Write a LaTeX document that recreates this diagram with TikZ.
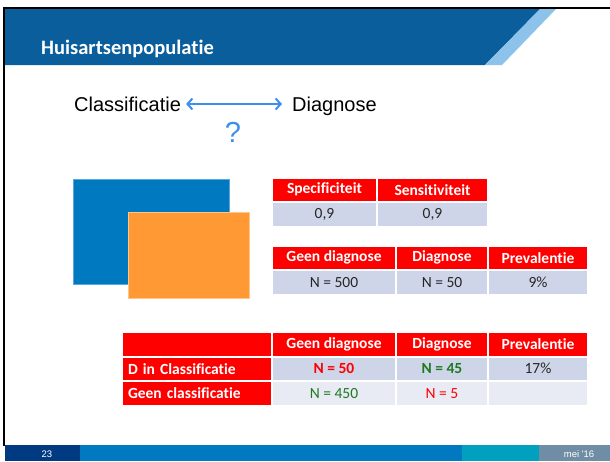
\documentclass[tikz,border=0pt]{standalone}
\usepackage{fontspec}
\setmainfont[Ligatures={NoCommon}]{Carlito}
\newfontfamily\arialf{Liberation Sans}
\usetikzlibrary{arrows.meta}
\definecolor{hdrblue}{HTML}{0A5E9C}
\definecolor{bandblue}{HTML}{8DC2EA}
\definecolor{bxblue}{HTML}{0079C1}
\definecolor{bxblueedge}{HTML}{5BA6DC}
\definecolor{bxorange}{HTML}{FF9933}
\definecolor{bxorangeedge}{HTML}{FFC58A}
\definecolor{tred}{HTML}{FF0000}
\definecolor{tcellA}{HTML}{CFD5E8}
\definecolor{tcellB}{HTML}{E8EBF4}
\definecolor{txtdark}{HTML}{262626}
\definecolor{tgreen}{HTML}{1E7A1E}
\definecolor{fnavy}{HTML}{003A80}
\definecolor{fblue}{HTML}{0079C1}
\definecolor{fteal}{HTML}{00A0BE}
\definecolor{fgray}{HTML}{6F8DA5}
\definecolor{arrowblue}{HTML}{3D8FEF}
\tikzset{
  cellbase/.style={draw=white, line width=2pt, inner sep=0pt, anchor=north west,
    font=\fontsize{15.5}{18}\selectfont},
  hcell/.style={cellbase, fill=tred, text=white, font=\bfseries\fontsize{15.5}{18}\selectfont},
  vcell/.style={cellbase, fill=tcellA, text=txtdark},
  wcell/.style={cellbase, fill=tcellB, text=txtdark},
  bigtext/.style={font=\arialf\fontsize{20}{24}\selectfont, inner sep=0pt,
    text height=15pt, text depth=1pt, anchor=base west},
  foottext/.style={font=\arialf\fontsize{9.5}{11}\selectfont, text=white, inner sep=0pt},
  arr/.style={{Straight Barb[length=5pt,width=11pt]}-{Straight Barb[length=5pt,width=11pt]},
    line width=2pt, arrowblue},
}
\newcommand\mkcell[7]{\node[#1, minimum width={#5-#3}, minimum height={#6-#4}] (#2) at (#3,#4) {#7};}
\begin{document}
\begin{tikzpicture}[x=1pt,y=-1pt]
\useasboundingbox (0,0) rectangle (610,461);
\fill[white] (0,0) rectangle (610,461);
% header
\fill[hdrblue] (4,9) -- (540,9) -- (485,65) -- (4,65) -- cycle;
\fill[bandblue] (540,9) -- (556,9) -- (502,65) -- (485,65) -- cycle;
\draw[line width=2pt] (3,8) -- (610,8);
\draw[line width=2pt] (4,8) -- (4,446);
\node[font=\bfseries\fontsize{20.5}{24}\selectfont, text=white, anchor=west, inner sep=0pt] (title) at (41,48.5) {Huisartsenpopulatie};
% classificatie row
\node[bigtext] (cl) at (74,111) {Classificatie};
\node[bigtext] (dg) at (292,111) {Diagnose};
\draw[arr, shorten <=5pt, shorten >=10pt] (cl.east) -- (dg.west);
\node[font=\arialf\fontsize{29}{32}\selectfont, text=arrowblue, inner sep=0pt] (q) at (233,132) {?};
% rectangles
\filldraw[fill=bxblue, draw=bxblueedge, line width=0.8pt] (73,179) rectangle (229,284);
\filldraw[fill=bxorange, draw=bxorangeedge, line width=0.8pt] (128,212) rectangle (249,298);
% table 1
\mkcell{hcell}{a1}{271}{177}{376}{200.5}{Specificiteit}
\mkcell{hcell}{a2}{376}{177}{487}{200.5}{Sensitiviteit}
\mkcell{vcell}{b1}{271}{200.5}{376}{226}{0,9}
\mkcell{vcell}{b2}{376}{200.5}{487}{226}{0,9}
% table 2
\mkcell{hcell}{c1}{271}{245}{395}{268.5}{Geen diagnose}
\mkcell{hcell}{c2}{395}{245}{487}{268.5}{Diagnose}
\mkcell{hcell}{c3}{487}{245}{587}{268.5}{Prevalentie}
\mkcell{vcell}{d1}{271}{268.5}{395}{294}{N = 500}
\mkcell{vcell}{d2}{395}{268.5}{487}{294}{N = 50}
\mkcell{vcell}{d3}{487}{268.5}{587}{294}{9\%}
% table 3
\mkcell{hcell}{e0}{121}{331}{271}{355.5}{}
\mkcell{hcell}{e1}{271}{331}{395}{355.5}{Geen diagnose}
\mkcell{hcell}{e2}{395}{331}{487}{355.5}{Diagnose}
\mkcell{hcell}{e3}{487}{331}{587}{355.5}{Prevalentie}
\node[hcell, minimum width=150, minimum height=24.5, text width=138, inner xsep=6pt, align=left] (f0) at (121,355.5) {D in Classificatie};
\mkcell{vcell}{f1}{271}{355.5}{395}{380}{\textcolor{tred}{\bfseries N = 50}}
\mkcell{vcell}{f2}{395}{355.5}{487}{380}{\textcolor{tgreen}{\bfseries N = 45}}
\mkcell{vcell}{f3}{487}{355.5}{587}{380}{17\%}
\node[hcell, minimum width=150, minimum height=25, text width=138, inner xsep=6pt, align=left] (g0) at (121,380) {Geen classificatie};
\mkcell{wcell}{g1}{271}{380}{395}{405}{\textcolor{tgreen}{N = 450}}
\mkcell{wcell}{g2}{395}{380}{487}{405}{\textcolor{tred}{N = 5}}
\mkcell{wcell}{g3}{487}{380}{587}{405}{}
% footer
\fill[fnavy] (5,445) rectangle (80,461);
\fill[fblue] (80,445) rectangle (462,461);
\fill[fteal] (462,445) rectangle (539,461);
\fill[fgray] (539,445) rectangle (610,461);
\node[foottext] (pg) at (47,454) {23};
\node[foottext] (dt) at (579,454) {mei '16};
\end{tikzpicture}
\end{document}
